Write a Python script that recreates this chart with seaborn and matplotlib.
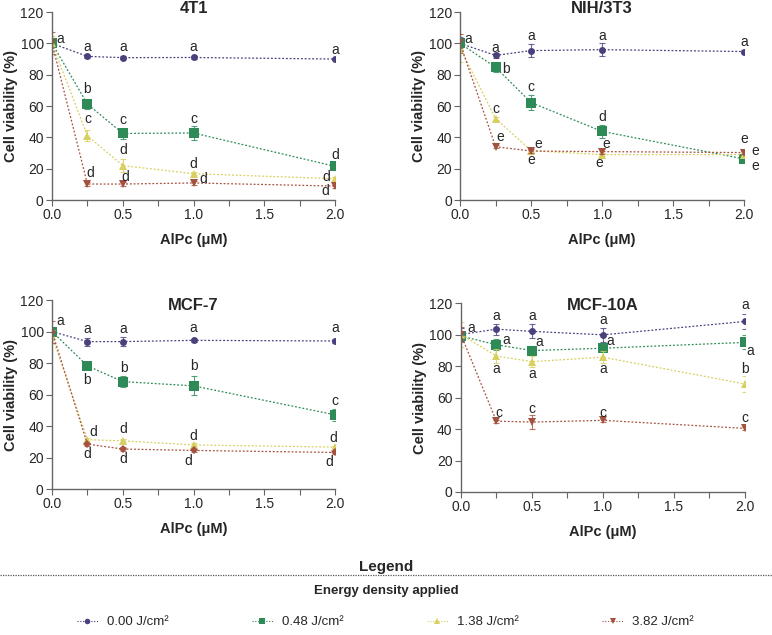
import numpy as np
import pandas as pd
import matplotlib
matplotlib.use("Agg")
import matplotlib.pyplot as plt
from matplotlib.lines import Line2D
from matplotlib.ticker import MultipleLocator
import seaborn as sns

sns.set_style("ticks")
plt.rcParams["font.family"] = ["Liberation Sans", "DejaVu Sans"]

# --- data ---
doses = [0, 0.25, 0.5, 1.0, 2.0]
energies = ["0.00 J/cm²", "0.48 J/cm²", "1.38 J/cm²", "3.82 J/cm²"]
panels = ["4T1", "NIH/3T3", "MCF-7", "MCF-10A"]

means = {
    "4T1": [[100, 91.7, 90.9, 91.0, 90.0],
            [100, 61.3, 42.5, 42.8, 21.5],
            [100, 41.0, 22.0, 16.8, 13.6],
            [100, 10.2, 10.2, 10.9, 8.9]],
    "NIH/3T3": [[100, 92.3, 95.4, 96.0, 94.8],
                [100, 84.7, 62.2, 43.8, 26.2],
                [97, 52.0, 31.5, 29.0, 29.0],
                [100, 34.0, 31.3, 30.9, 30.3]],
    "MCF-7": [[100, 93.6, 93.6, 94.4, 94.0],
              [100, 78.2, 68.2, 65.5, 47.1],
              [97, 31.3, 30.6, 28.0, 26.6],
              [100, 28.5, 25.4, 24.5, 23.2]],
    "MCF-10A": [[100, 103.4, 102.0, 99.8, 108.3],
                [99, 93.5, 89.8, 91.3, 95.0],
                [100, 86.4, 82.8, 85.6, 68.6],
                [100, 45.0, 44.4, 45.5, 40.4]],
}
errors = {
    "4T1": [[2, 1, 1, 1, 0.5],
            [2, 3, 3.5, 4.5, 2.5],
            [5, 3.5, 4, 1, 1],
            [7, 1, 1, 1, 1]],
    "NIH/3T3": [[4, 1.5, 4, 4, 1],
                [3, 3, 5, 4, 2],
                [9, 1, 1, 1, 1],
                [6, 1, 1.5, 1.5, 1]],
    "MCF-7": [[3, 2.5, 3, 1, 1],
              [2, 2, 3.5, 6, 4],
              [4, 1, 1, 1, 1],
              [7, 1, 1, 1, 1]],
    "MCF-10A": [[4, 3.5, 4.5, 4.5, 4.5],
                [3, 3.5, 3, 2, 4.5],
                [8, 4.5, 3.5, 4, 5],
                [5, 1, 4.5, 1, 1]],
}
# significance letters: (x, y, letter)
letters = {
    "4T1": [(0.06, 103, "a"), (0.25, 98, "a"), (0.5, 98, "a"), (1.0, 98, "a"), (2.0, 95.5, "a"),
            (0.25, 71, "b"), (0.5, 51, "c"), (1.0, 52, "c"), (2.0, 29, "d"),
            (0.25, 52, "c"), (0.5, 32, "d"), (1.0, 23, "d"), (1.94, 15, "d"),
            (0.27, 17, "d"), (0.52, 15, "d"), (1.07, 13.5, "d"), (1.93, 5.5, "d")],
    "NIH/3T3": [(0.06, 103, "a"), (0.25, 97, "a"), (0.5, 104.5, "a"), (1.0, 104.5, "a"), (2.0, 101, "a"),
                (0.32, 83.4, "b"), (0.5, 72.4, "c"), (1.0, 52.7, "d"), (2.0, 39, "e"),
                (0.25, 58, "c"), (0.5, 25.6, "e"), (0.98, 23.5, "e"), (2.08, 21.5, "e"),
                (0.28, 40, "e"), (0.55, 36, "e"), (1.03, 36, "e"), (2.08, 31, "e")],
    "MCF-7": [(0.06, 107, "a"), (0.25, 101.4, "a"), (0.5, 101.4, "a"), (1.0, 102, "a"), (2.0, 102, "a"),
              (0.25, 69.3, "b"), (0.51, 76.7, "b"), (1.0, 78.2, "b"), (2.0, 56, "c"),
              (0.29, 36.5, "d"), (0.5, 38.2, "d"), (1.0, 33.8, "d"), (1.99, 32.3, "d"),
              (0.25, 22.4, "d"), (0.5, 19, "d"), (0.96, 18, "d"), (1.96, 17.1, "d")],
    "MCF-10A": [(0.07, 104, "a"), (0.25, 111.5, "a"), (0.5, 111.5, "a"), (1.0, 109.4, "a"), (2.0, 118.5, "a"),
                (0.32, 96.6, "a"), (0.55, 95, "a"), (1.05, 95.6, "a"), (2.04, 89.8, "a"),
                (0.25, 78, "a"), (0.5, 75, "a"), (1.0, 78, "a"), (2.0, 78, "b"),
                (0.27, 50.3, "c"), (0.5, 53, "c"), (1.0, 50.3, "c"), (2.0, 46.7, "c")],
}

colors = ["#4b3f7d", "#2e8b57", "#d8cf5e", "#a5513f"]
marker_list = ["o", "s", "^", "v"]
marker_sizes = [5, 7, 6, 6]

rows = []
for p in panels:
    for e, m, s in zip(energies, means[p], errors[p]):
        for d, v, sd in zip(doses, m, s):
            rows.append({"panel": p, "energy": e, "dose": d, "viability": v, "sd": sd})
df = pd.DataFrame(rows)

fig = plt.figure(figsize=(7.72, 6.35), dpi=100)
positions = {
    "4T1": [0.0674, 0.685, 0.3666, 0.296],
    "NIH/3T3": [0.596, 0.685, 0.368, 0.296],
    "MCF-7": [0.0674, 0.2299, 0.3666, 0.2976],
    "MCF-10A": [0.597, 0.2252, 0.368, 0.2976],
}
title_y = {"4T1": 1.02, "NIH/3T3": 1.02, "MCF-7": 0.97, "MCF-10A": 0.985}

for p in panels:
    ax = fig.add_axes(positions[p])
    sub = df[df["panel"] == p]
    for i, e in enumerate(energies):
        s = sub[sub["energy"] == e]
        mk = marker_list[i]
        if p == "MCF-7" and i == 3:
            mk = "D"
        ax.errorbar(s["dose"], s["viability"], yerr=s["sd"], fmt="none",
                    ecolor=colors[i], elinewidth=0.8, capsize=2, capthick=0.8, alpha=0.8)
        sns.lineplot(data=s, x="dose", y="viability", ax=ax, color=colors[i],
                     marker=mk, markersize=marker_sizes[i] if mk != "D" else 4,
                     markeredgewidth=0, linestyle=(0, (1.5, 1.5)), linewidth=0.9,
                     errorbar=None, legend=False)
    for x, y, t in letters[p]:
        ax.text(x, y, t, ha="center", va="center", fontsize=10)
    ax.set_xlim(0, 2.0)
    ax.set_ylim(0, 120)
    ax.xaxis.set_major_locator(MultipleLocator(0.5))
    ax.xaxis.set_minor_locator(MultipleLocator(0.25))
    ax.yaxis.set_major_locator(MultipleLocator(20))
    ax.tick_params(which="both", direction="out", length=4, width=0.8,
                   color="#666666", labelsize=10, pad=2)
    ax.set_xticklabels([f"{v:.1f}" for v in ax.get_xticks()])
    sns.despine(ax=ax)
    for sp in ["left", "bottom"]:
        ax.spines[sp].set_color("#666666")
        ax.spines[sp].set_linewidth(1.0)
    ax.set_xlabel("AlPc (μM)", fontsize=10.5, fontweight="bold", labelpad=8)
    ax.set_ylabel("Cell viability (%)", fontsize=10.5, fontweight="bold", labelpad=2)
    ax.text(0.5, title_y[p], p, transform=ax.transAxes, ha="center", va="center",
            fontsize=12, fontweight="bold")

# legend block
fig.text(0.5, 1 - 567 / 635, "Legend", ha="center", va="center", fontsize=11, fontweight="bold")
fig.add_artist(Line2D([0, 1], [1 - 575 / 635] * 2, transform=fig.transFigure,
                      color="#555555", linestyle=(0, (1, 1)), linewidth=0.9))
fig.text(0.5, 1 - 591 / 635, "Energy density applied", ha="center", va="center",
         fontsize=9.5, fontweight="bold")
handles = [Line2D([], [], color=c, marker=m, markersize=4, markeredgewidth=0,
                  linestyle=(0, (1, 1.5)), linewidth=0.8)
           for c, m in zip(colors, marker_list)]
fig.legend(handles, energies, loc="center", bbox_to_anchor=(0.499, 1 - 622 / 635),
           ncol=4, frameon=False, fontsize=9.5, handlelength=1.6, handletextpad=0.7,
           columnspacing=6.3)

fig.savefig("out.png", dpi=100)
